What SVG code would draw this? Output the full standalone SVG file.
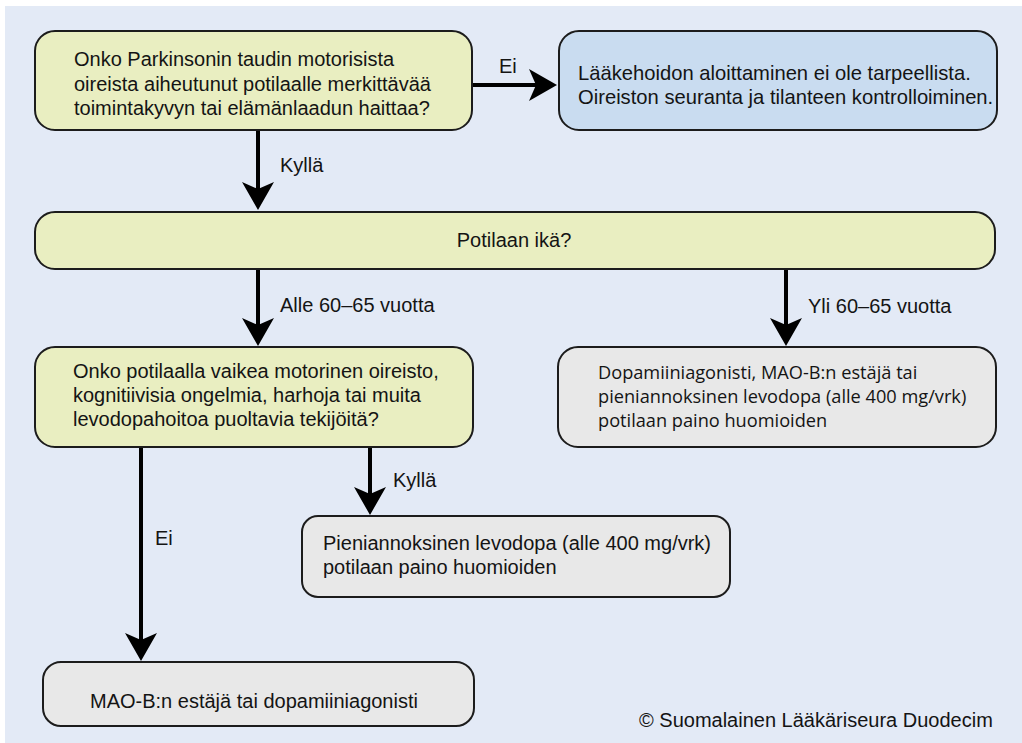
<svg xmlns="http://www.w3.org/2000/svg" width="1022" height="743" viewBox="0 0 1022 743">
<style>
.box{stroke:#1c1c1c;stroke-width:2}
.y{fill:#e9eec1}
.b{fill:#c9dcf0}
.g{fill:#e8e8e8}
text{font-family:"Liberation Sans",Arial,sans-serif;font-size:20px;fill:#141414}
.os{font-family:"Open Sans","Noto Sans",sans-serif;font-size:18.2px}
.con{stroke:#000;stroke-width:4;fill:none}
</style>
<defs>
<marker id="ah" markerUnits="userSpaceOnUse" markerWidth="30" markerHeight="34" viewBox="0 0 30 34" refX="9" refY="17" orient="auto">
<path d="M28,17 L0,1 L7,17 L0,33 Z" fill="#000"/>
</marker>
</defs>
<rect width="1022" height="743" fill="#ffffff"/>
<rect x="5" y="6" width="1017" height="737" fill="#e3eaf6"/>

<g id="connectors">
<line class="con" x1="472" y1="85" x2="538" y2="85" marker-end="url(#ah)"/>
<line class="con" x1="258" y1="130" x2="258" y2="191" marker-end="url(#ah)"/>
<line class="con" x1="258" y1="269" x2="258" y2="327" marker-end="url(#ah)"/>
<line class="con" x1="786" y1="269" x2="786" y2="327" marker-end="url(#ah)"/>
<line class="con" x1="370" y1="447" x2="370" y2="496" marker-end="url(#ah)"/>
<line class="con" x1="141" y1="447" x2="141" y2="642" marker-end="url(#ah)"/>
<text x="499" y="73">Ei</text>
<text x="280" y="172">Kyllä</text>
<text x="280" y="312">Alle 60–65 vuotta</text>
<text x="808" y="313">Yli 60–65 vuotta</text>
<text x="393" y="487">Kyllä</text>
<text x="155" y="545">Ei</text>
</g>

<g id="q1">
<rect class="box y" x="35" y="31" width="437" height="99" rx="20"/>
<text x="74" y="66">Onko Parkinsonin taudin motorisista</text>
<text x="74" y="90.5">oireista aiheutunut potilaalle merkittävää</text>
<text x="74" y="115">toimintakyvyn tai elämänlaadun haittaa?</text>
</g>

<g id="noMed">
<rect class="box b" x="559" y="31" width="438" height="99" rx="20"/>
<text x="578" y="80" style="font-size:20.2px">Lääkehoidon aloittaminen ei ole tarpeellista.</text>
<text x="578" y="104" style="font-size:20.2px">Oireiston seuranta ja tilanteen kontrolloiminen.</text>
</g>

<g id="age">
<rect class="box y" x="35" y="212" width="960" height="57" rx="20"/>
<text x="514" y="247" text-anchor="middle">Potilaan ikä?</text>
</g>

<g id="q2">
<rect class="box y" x="35" y="347" width="438" height="100" rx="20"/>
<text x="73" y="378">Onko potilaalla vaikea motorinen oireisto,</text>
<text x="73" y="402">kognitiivisia ongelmia, harhoja tai muita</text>
<text x="73" y="426">levodopahoitoa puoltavia tekijöitä?</text>
</g>

<g id="older">
<rect class="box g" x="558" y="347" width="438" height="100" rx="20"/>
<text class="os" x="598" y="379">Dopamiiniagonisti, MAO-B:n estäjä tai</text>
<text class="os" x="598" y="403">pieniannoksinen levodopa (alle 400 mg/vrk)</text>
<text class="os" x="598" y="427">potilaan paino huomioiden</text>
</g>

<g id="lowLevodopa">
<rect class="box g" x="302" y="516" width="428" height="81" rx="16"/>
<text x="323" y="550">Pieniannoksinen levodopa (alle 400 mg/vrk)</text>
<text x="323" y="574">potilaan paino huomioiden</text>
</g>

<g id="maob">
<rect class="box g" x="43" y="662" width="431" height="64" rx="18"/>
<text x="90" y="708">MAO-B:n estäjä tai dopamiiniagonisti</text>
</g>

<text x="639" y="727">© Suomalainen Lääkäriseura Duodecim</text>
</svg>
